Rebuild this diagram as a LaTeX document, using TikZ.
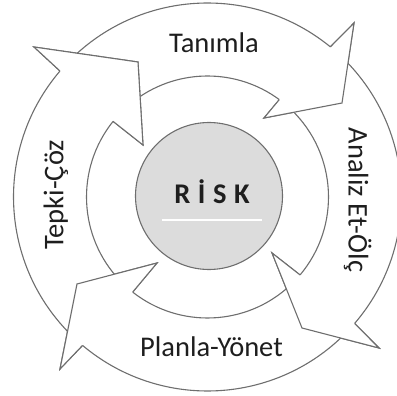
\documentclass[tikz,border=0pt]{standalone}
\usepackage{fontspec}
\setmainfont{Carlito}
\usetikzlibrary{calc}
\definecolor{edge}{RGB}{110,110,110}
\definecolor{core}{RGB}{220,220,220}
\definecolor{ink}{RGB}{30,30,30}
\tikzset{
  arrowshape/.style={fill=white, draw=edge, line width=1.1pt, line join=miter},
  headfill/.style={fill=white},
  headline/.style={draw=edge, line width=1.1pt, line join=miter},
  lbl/.style={text=ink, font=\fontsize{28.5}{30}\selectfont, inner sep=0pt, anchor=base},
}
\begin{document}
\begin{tikzpicture}[x=1pt,y=1pt]
\useasboundingbox (0,0) rectangle (397,-396);
\clip (0,0) rectangle (397,-396);
\coordinate (C) at (207.5,-197);
% head points
\coordinate (h1o) at (34,-47);  \coordinate (h1t) at (138,-62);  \coordinate (h1i) at (143,-145);
\coordinate (h2o) at (354,-23); \coordinate (h2t) at (342,-103); \coordinate (h2i) at (264,-118);
\coordinate (h3o) at (379,-348);\coordinate (h3t) at (302,-328); \coordinate (h3i) at (272,-253);
\coordinate (h4o) at (60,-369); \coordinate (h4t) at (77,-284);  \coordinate (h4i) at (157,-263);
% bands with heads
\path[arrowshape] ([shift={(C)}]134:194) arc[start angle=134, end angle=50.7, radius=194]
  -- (h2o) -- (h2t) -- (h2i) -- ([shift={(C)}]53.6:121) arc[start angle=53.6, end angle=126, radius=121] -- cycle;
\path[arrowshape] ([shift={(C)}]45.5:194) arc[start angle=45.5, end angle=-40.7, radius=194]
  -- (h3o) -- (h3t) -- (h3i) -- ([shift={(C)}]-40.1:121) arc[start angle=-40.1, end angle=46, radius=121] -- cycle;
\path[arrowshape] ([shift={(C)}]-46:194) arc[start angle=-46, end angle=-130.1, radius=194]
  -- (h4o) -- (h4t) -- (h4i) -- ([shift={(C)}]-128.2:121) arc[start angle=-128.2, end angle=-47, radius=121] -- cycle;
\path[arrowshape] ([shift={(C)}]226:194) arc[start angle=226, end angle=139.5, radius=194]
  -- (h1o) -- (h1t) -- (h1i) -- ([shift={(C)}]141.3:121) arc[start angle=141.3, end angle=224, radius=121] -- cycle;
% heads on top (cover the tails)
\foreach \h/\ao/\ai in {1/139.5/141.3, 2/50.7/53.6, 3/-40.7/-40.1, 4/229.9/231.8}{
  \fill[headfill] ([shift={(C)}]\ao:194) -- (h\h o) -- (h\h t) -- (h\h i) -- ([shift={(C)}]\ai:121) -- cycle;
  \draw[headline] ([shift={(C)}]\ao:194) -- (h\h o) -- (h\h t) -- (h\h i) -- ([shift={(C)}]\ai:121);
}
% centre
\node[circle, minimum size=147pt, inner sep=0pt, fill=core, draw=edge, line width=1.1pt] (risk) at (209,-196) {};
\node[lbl, font=\fontsize{28.5}{30}\selectfont\bfseries] (risktxt) at (212,-203.3) {R\hspace{7.5pt}İ\hspace{7.5pt}S\hspace{7.5pt}K};
\coordinate (ul1) at (162,-220); \coordinate (ul2) at (262,-220);
\draw[white, line width=2pt] (ul1) -- (ul2);
% labels
\node[lbl] (tanimla) at (214,-52.3) {Tanımla};
\node[lbl] (planla) at (211.5,-356.7) {Planla-Yönet};
\node[lbl, rotate=90] (tepki) at (63.3,-195) {Tepki-Çöz};
\node[lbl, rotate=-90] (analiz) at (348.5,-200) {Analiz Et-Ölç};
\end{tikzpicture}
\end{document}
